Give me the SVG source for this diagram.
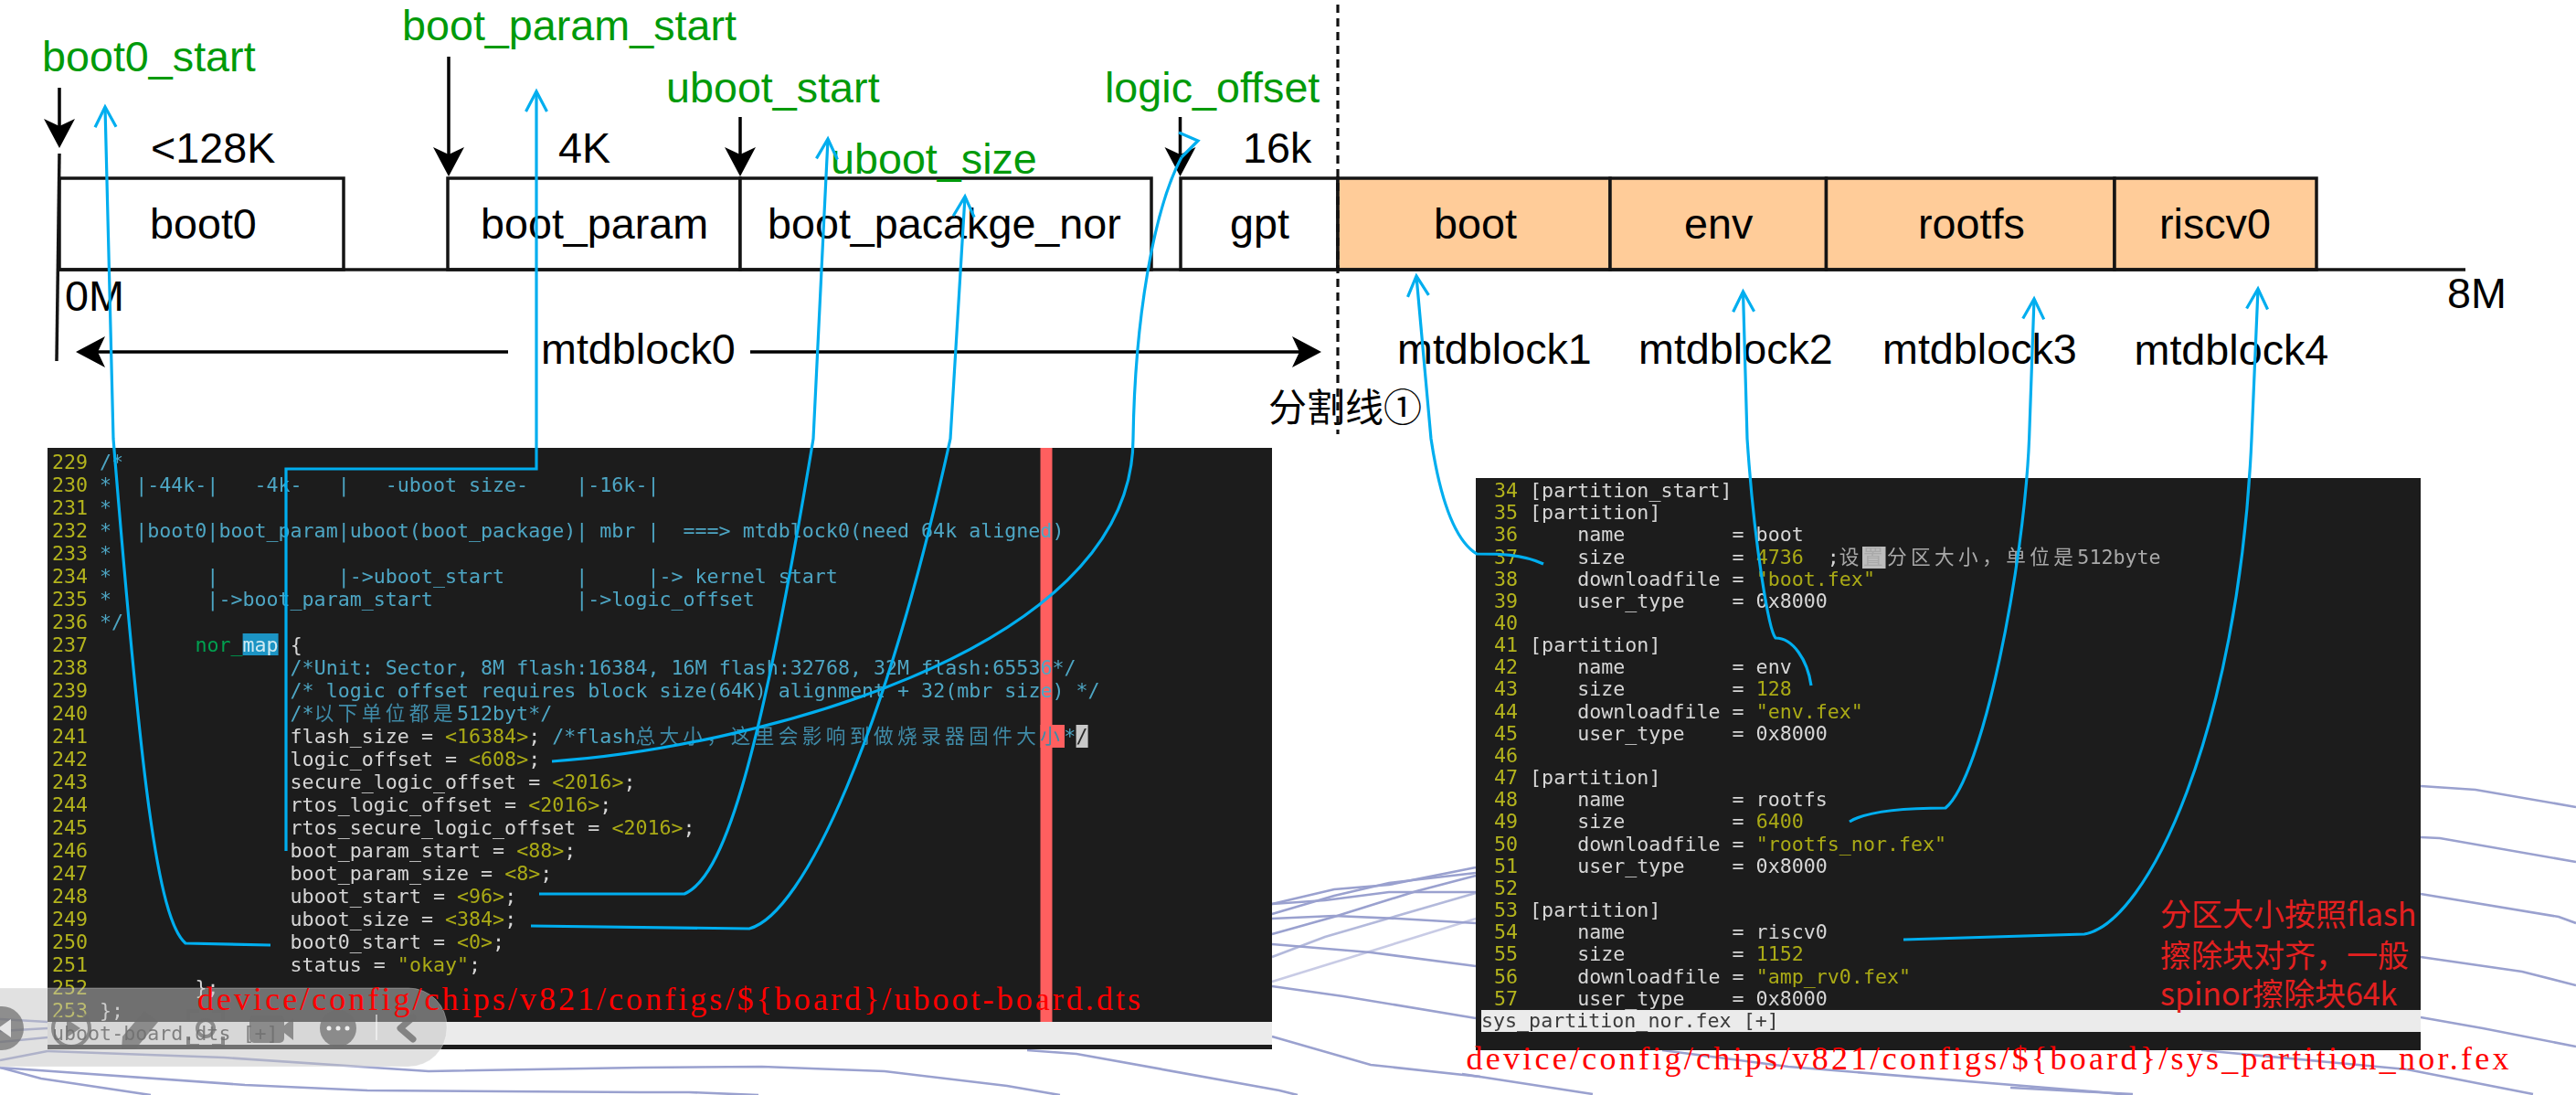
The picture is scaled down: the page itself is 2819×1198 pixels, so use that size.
<svg xmlns="http://www.w3.org/2000/svg" width="2819" height="1198" viewBox="0 0 2819 1198">
<style>
.lab{font:46.7px "Liberation Sans",Arial,sans-serif;fill:#000}
.grn{fill:#009a0a}
.box{fill:#fff;stroke:#141414;stroke-width:3.5}
.org{fill:#ffcc99}
.ax{stroke:#141414;stroke-width:3.5;fill:none}
.blk{stroke:#000;stroke-width:3.5;fill:none}
.con{stroke:#00aeef;stroke-width:3.2;fill:none}
.bg path{fill:none;stroke:#9aa1cf;stroke-width:2.6}
.code text{font:21.65px "DejaVu Sans Mono","Noto Sans CJK SC",monospace;white-space:pre;fill:#d6d6d6}
.code{filter:url(#soft)}
.code text.n{fill:#b4b41c}
.code text.c{fill:#4ea6c4}
.code tspan.y{fill:#aaaa14}
.code tspan.g{fill:#00a050}
.code tspan.h{fill:#cfeaf2}
.code tspan.j{letter-spacing:4.41px}
.code tspan.d{fill:#3f8ba8}
.code text.st{fill:#3a3a3a}
.path{font:36px "Liberation Serif","Noto Sans CJK SC",serif;fill:#f00}
.note{font:34px "Noto Sans CJK SC","Liberation Sans",sans-serif;fill:#e32020}
.ico{fill:#6e6e6e;fill-opacity:.72}
.icl{fill:none;stroke:#6e6e6e;stroke-opacity:.72;stroke-width:4}
</style>
<defs>
<filter id="soft" x="-2%" y="-2%" width="104%" height="104%"><feGaussianBlur stdDeviation="0.45"/></filter>
<marker id="solid" markerUnits="userSpaceOnUse" markerWidth="44" markerHeight="40" refX="30" refY="20" orient="auto"><path d="M8 3 L40 20 L8 37 L16 20 Z" fill="#000"/></marker>
<marker id="open" markerUnits="userSpaceOnUse" markerWidth="30" markerHeight="30" refX="26" refY="15" orient="auto"><path d="M4 3.5 L26 15 L4 26.5" fill="none" stroke="#00aeef" stroke-width="3.2"/></marker>
</defs>
<rect width="2819" height="1198" fill="#fff"/>

<g id="background-lines" class="bg">
<path d="M1392 989 L1460 973 L1520 968 L1615 949"/>
<path d="M1392 989 L1450 985 L1520 976 L1615 976"/>
<path d="M1392 1000 L1460 980 L1520 966 L1615 955"/>
<path d="M1392 1022 L1460 1003 L1550 975 L1615 958"/>
<path d="M1392 1047 L1450 1025 L1615 977" opacity=".75"/>
<path d="M1392 1074 L1615 1005" opacity=".55"/>
<path d="M1392 1005 L1460 1002 L1530 1005 L1615 1010"/>
<path d="M1392 1033 L1500 1042 L1615 1057"/>
<path d="M1392 1079 L1470 1090 L1615 1114"/>
<path d="M1392 1134 L1500 1165 L1620 1178"/>
<path d="M1124 1149 L1178 1153 L1400 1193 L1420 1198"/>
<path d="M0 1168 L45 1180 L165 1198"/>
<path d="M0 1168 L268 1187 L402 1193 L700 1195 L754 1195 L830 1198"/>
<path d="M52 1150 L245 1157 L469 1172 L700 1168 L834 1167 L968 1172 L1102 1188 L1160 1198"/>
<path d="M0 1115 L52 1118"/><path d="M0 1128 L52 1125"/><path d="M0 1140 L52 1135"/><path d="M0 1160 L52 1150"/>
<path d="M1600 1175 L1743 1197"/>
<path d="M1819 1149 L1957 1167 L2300 1195 L2330 1198"/>
<path d="M2200 1190 L2334 1197"/>
<path d="M2409 1149 L2634 1170 L2772 1197"/>
<path d="M2649 860 L2709 864 L2819 883"/>
<path d="M2649 916 L2670 917 L2819 943"/>
<path d="M2649 978 L2800 1003 L2819 1010"/>
<path d="M2649 1047 L2760 1063 L2819 1078"/>
<path d="M2649 1113 L2717 1125 L2819 1145"/>
</g>

<g id="terminal-uboot-board" class="code">
<rect x="52" y="490" width="1340" height="658" fill="#1c1c1c"/>
<rect x="1138.5" y="490" width="13" height="628" fill="#ff5f5f"/>
<rect x="1138.5" y="793" width="26.5" height="25" fill="#ff5f5f"/>
<rect x="1177.6" y="793" width="13" height="25" fill="#c8c8c8"/>
<rect x="265.6" y="693" width="39" height="24" fill="#1a94c4"/>
<rect x="52" y="1118" width="1340" height="25" fill="#ebebeb"/>
<text class="n" x="57" y="513">229</text><text class="c" x="109.1" y="513">/*</text>
<text class="n" x="57" y="538">230</text><text class="c" x="109.1" y="538">*  |-44k-|   -4k-   |   -uboot size-    |-16k-|</text>
<text class="n" x="57" y="563">231</text><text class="c" x="109.1" y="563">*</text>
<text class="n" x="57" y="588">232</text><text class="c" x="109.1" y="588">*  |boot0|boot_param|uboot(boot_package)| mbr |  ===&gt; mtdblock0(need 64k aligned)</text>
<text class="n" x="57" y="613">233</text><text class="c" x="109.1" y="613">*</text>
<text class="n" x="57" y="638">234</text><text class="c" x="109.1" y="638">*        |          |-&gt;uboot_start      |     |-&gt; kernel start</text>
<text class="n" x="57" y="663">235</text><text class="c" x="109.1" y="663">*        |-&gt;boot_param_start            |-&gt;logic_offset</text>
<text class="n" x="57" y="688">236</text><text class="c" x="109.1" y="688">*/</text>
<text class="n" x="57" y="713">237</text><text x="213.4" y="713"><tspan class="g">nor_</tspan><tspan class="h">map</tspan> {</text>
<text class="n" x="57" y="738">238</text><text class="c" x="317.6" y="738">/*Unit: Sector, 8M flash:16384, 16M flash:32768, 32M flash:65536*/</text>
<text class="n" x="57" y="763">239</text><text class="c" x="317.6" y="763">/* logic offset requires block size(64K) alignment + 32(mbr size) */</text>
<text class="n" x="57" y="788">240</text><text class="c" x="317.6" y="788">/*<tspan class="j d">以下单位都是</tspan>512byt*/</text>
<text class="n" x="57" y="813">241</text><text x="317.6" y="813">flash_size = <tspan class="y">&lt;16384&gt;</tspan>; <tspan fill="#4ea6c4">/*flash</tspan><tspan class="j d">总大小，这里会影响到做烧录器固件大小</tspan><tspan fill="#4ea6c4">*</tspan><tspan fill="#2a2a2a">/</tspan></text>
<text class="n" x="57" y="838">242</text><text x="317.6" y="838">logic_offset = <tspan class="y">&lt;608&gt;</tspan>;</text>
<text class="n" x="57" y="863">243</text><text x="317.6" y="863">secure_logic_offset = <tspan class="y">&lt;2016&gt;</tspan>;</text>
<text class="n" x="57" y="888">244</text><text x="317.6" y="888">rtos_logic_offset = <tspan class="y">&lt;2016&gt;</tspan>;</text>
<text class="n" x="57" y="913">245</text><text x="317.6" y="913">rtos_secure_logic_offset = <tspan class="y">&lt;2016&gt;</tspan>;</text>
<text class="n" x="57" y="938">246</text><text x="317.6" y="938">boot_param_start = <tspan class="y">&lt;88&gt;</tspan>;</text>
<text class="n" x="57" y="963">247</text><text x="317.6" y="963">boot_param_size = <tspan class="y">&lt;8&gt;</tspan>;</text>
<text class="n" x="57" y="988">248</text><text x="317.6" y="988">uboot_start = <tspan class="y">&lt;96&gt;</tspan>;</text>
<text class="n" x="57" y="1013">249</text><text x="317.6" y="1013">uboot_size = <tspan class="y">&lt;384&gt;</tspan>;</text>
<text class="n" x="57" y="1038">250</text><text x="317.6" y="1038">boot0_start = <tspan class="y">&lt;0&gt;</tspan>;</text>
<text class="n" x="57" y="1063">251</text><text x="317.6" y="1063">status = <tspan class="y">"okay"</tspan>;</text>
<text class="n" x="57" y="1088">252</text><text x="213.4" y="1088">};</text>
<text class="n" x="57" y="1113">253</text><text x="109.1" y="1113">};</text>
<text class="st" x="57" y="1138">uboot-board.dts [+]</text>
</g>

<g id="toolbar">
<rect x="-60" y="1081" width="549" height="86" rx="42" fill="#c4c4c4" fill-opacity=".5" stroke="#fff" stroke-opacity=".3"/>
<circle cx="2" cy="1125" r="24" class="ico"/><path d="M-2 1125 L12 1115 L12 1135 Z" fill="#e6e6e6"/>
<circle cx="78" cy="1125" r="20" class="icl"/><path d="M73 1115 L88 1125 L73 1135 Z" class="ico"/>
<path d="M133 1148 L134 1134 L158 1106 L173 1118 L148 1148 Z" class="ico"/>
<path d="M206 1116 L206 1106 L218 1106 M232 1106 L244 1106 L244 1116 M206 1134 L206 1144 L218 1144 M232 1144 L244 1144 L244 1134" class="icl"/><circle cx="225" cy="1125" r="9" class="icl"/>
<rect x="273" y="1111" width="38" height="30" rx="5" class="ico"/><path d="M311 1122 L321 1114 L321 1138 L311 1130 Z" class="ico"/>
<circle cx="370" cy="1125" r="20" class="ico"/><circle cx="360" cy="1125" r="2.5" fill="#eee"/><circle cx="370" cy="1125" r="2.5" fill="#eee"/><circle cx="380" cy="1125" r="2.5" fill="#eee"/>
<path d="M412 1110 L412 1138" stroke="#fff" stroke-opacity=".7" stroke-width="1.5"/>
<path d="M452 1113 L438 1125 L452 1137" fill="none" stroke="#6e6e6e" stroke-opacity=".8" stroke-width="7" stroke-linecap="round" stroke-linejoin="round"/>
</g>

<g id="terminal-sys-partition" class="code">
<rect x="1615" y="523" width="1034" height="626" fill="#1c1c1c"/>
<rect x="2038" y="598" width="25.5" height="24" fill="#bdbdbd"/>
<rect x="1621" y="1105" width="1028" height="24" fill="#ebebeb"/>
<text class="n" x="1635" y="544">34</text><text x="1674.1" y="544">[partition_start]</text>
<text class="n" x="1635" y="568">35</text><text x="1674.1" y="568">[partition]</text>
<text class="n" x="1635" y="592">36</text><text x="1726.2" y="592">name         = boot</text>
<text class="n" x="1635" y="617">37</text><text x="1726.2" y="617">size         = <tspan class="y">4736</tspan>  ;<tspan class="j" fill="#a9a9a9">设置分区大小，单位是</tspan><tspan fill="#a9a9a9">512byte</tspan></text>
<text class="n" x="1635" y="641">38</text><text x="1726.2" y="641">downloadfile = <tspan class="y">"boot.fex"</tspan></text>
<text class="n" x="1635" y="665">39</text><text x="1726.2" y="665">user_type    = 0x8000</text>
<text class="n" x="1635" y="689">40</text>
<text class="n" x="1635" y="713">41</text><text x="1674.1" y="713">[partition]</text>
<text class="n" x="1635" y="737">42</text><text x="1726.2" y="737">name         = env</text>
<text class="n" x="1635" y="761">43</text><text x="1726.2" y="761">size         = <tspan class="y">128</tspan></text>
<text class="n" x="1635" y="786">44</text><text x="1726.2" y="786">downloadfile = <tspan class="y">"env.fex"</tspan></text>
<text class="n" x="1635" y="810">45</text><text x="1726.2" y="810">user_type    = 0x8000</text>
<text class="n" x="1635" y="834">46</text>
<text class="n" x="1635" y="858">47</text><text x="1674.1" y="858">[partition]</text>
<text class="n" x="1635" y="882">48</text><text x="1726.2" y="882">name         = rootfs</text>
<text class="n" x="1635" y="906">49</text><text x="1726.2" y="906">size         = <tspan class="y">6400</tspan></text>
<text class="n" x="1635" y="931">50</text><text x="1726.2" y="931">downloadfile = <tspan class="y">"rootfs_nor.fex"</tspan></text>
<text class="n" x="1635" y="955">51</text><text x="1726.2" y="955">user_type    = 0x8000</text>
<text class="n" x="1635" y="979">52</text>
<text class="n" x="1635" y="1003">53</text><text x="1674.1" y="1003">[partition]</text>
<text class="n" x="1635" y="1027">54</text><text x="1726.2" y="1027">name         = riscv0</text>
<text class="n" x="1635" y="1051">55</text><text x="1726.2" y="1051">size         = <tspan class="y">1152</tspan></text>
<text class="n" x="1635" y="1076">56</text><text x="1726.2" y="1076">downloadfile = <tspan class="y">"amp_rv0.fex"</tspan></text>
<text class="n" x="1635" y="1100">57</text><text x="1726.2" y="1100">user_type    = 0x8000</text>
<text class="st" x="1621" y="1124">sys_partition_nor.fex [+]</text>
</g>

<g id="annotations">
<text class="path" x="216" y="1105" textLength="1032" lengthAdjust="spacing">device/config/chips/v821/configs/${board}/uboot-board.dts</text>
<text class="path" x="1604.5" y="1170" textLength="1141" lengthAdjust="spacing">device/config/chips/v821/configs/${board}/sys_partition_nor.fex</text>
<text class="note" x="2364" y="1013">分区大小按照flash</text>
<text class="note" x="2364" y="1058">擦除块对齐，一般</text>
<text class="note" x="2364" y="1100">spinor擦除块64k</text>
</g>

<g id="node-boot0"><rect class="box" x="65" y="195" width="311" height="100"/><text class="lab" x="164" y="261">boot0</text></g>
<g id="node-boot_param"><rect class="box" x="490" y="195" width="320" height="100"/><text class="lab" x="526" y="261">boot_param</text></g>
<g id="node-boot_pacakge_nor"><rect class="box" x="810" y="195" width="450" height="100"/><text class="lab" x="840" y="261">boot_pacakge_nor</text></g>
<g id="node-gpt"><rect class="box" x="1292" y="195" width="172" height="100"/><text class="lab" x="1346" y="261">gpt</text></g>
<g id="node-boot"><rect class="box org" x="1464" y="195" width="298" height="100"/><text class="lab" x="1569" y="261">boot</text></g>
<g id="node-env"><rect class="box org" x="1762" y="195" width="236.500" height="100"/><text class="lab" x="1843" y="261">env</text></g>
<g id="node-rootfs"><rect class="box org" x="1998.500" y="195" width="315.500" height="100"/><text class="lab" x="2099" y="261">rootfs</text></g>
<g id="node-riscv0"><rect class="box org" x="2314" y="195" width="221" height="100"/><text class="lab" x="2363" y="261">riscv0</text></g>

<g id="labels">
<text class="lab grn" x="46" y="78">boot0_start</text>
<text class="lab grn" x="440" y="43.500">boot_param_start</text>
<text class="lab grn" x="729" y="112">uboot_start</text>
<text class="lab grn" x="909" y="190">uboot_size</text>
<text class="lab grn" x="1209" y="112">logic_offset</text>
<text class="lab" x="165" y="178">&lt;128K</text>
<text class="lab" x="611" y="178">4K</text>
<text class="lab" x="1360" y="178">16k</text>
<text class="lab" x="71" y="340">0M</text>
<text class="lab" x="2678" y="337">8M</text>
<text class="lab" x="592" y="398">mtdblock0</text>
<text class="lab" x="1529" y="398">mtdblock1</text>
<text class="lab" x="1793" y="398">mtdblock2</text>
<text class="lab" x="2060" y="398">mtdblock3</text>
<text class="lab" x="2335.500" y="399">mtdblock4</text>
<text x="1388" y="461" style="font:42px 'Noto Sans CJK SC','Liberation Sans',sans-serif" fill="#000">分割线①</text>
</g>

<g id="connectors">
<path class="ax" d="M62 395 L65 168"/>
<path class="ax" d="M65 295 L2698 295"/>
<path d="M1464 5 L1464 475" fill="none" stroke="#111" stroke-width="3.200" stroke-dasharray="9 6"/>
<path class="blk" d="M65 96 L65 152" marker-end="url(#solid)"/>
<path class="blk" d="M491 62 L491 183" marker-end="url(#solid)"/>
<path class="blk" d="M810 128 L810 183" marker-end="url(#solid)"/>
<path class="blk" d="M1291.500 128 L1291.500 183" marker-end="url(#solid)"/>
<path class="blk" d="M556 385 L93 385" marker-end="url(#solid)"/>
<path class="blk" d="M821 385 L1436 385" marker-end="url(#solid)"/>
<path class="con" d="M296 1034 L203 1032 C172 1005 154 850 124 480 L115 117" marker-end="url(#open)"/>
<path class="con" d="M313 931 L313 513 L587 513 L587 100" marker-end="url(#open)"/>
<path class="con" d="M590 978 L749 978 C790 960 829 850 890 480 L906 152" marker-end="url(#open)"/>
<path class="con" d="M581 1013 L820 1016 C880 1000 970 800 1040 480 L1056 215" marker-end="url(#open)"/>
<path class="con" d="M604 833 C800 820 1240 720 1240 480 C1242 350 1262 230 1293 172"/>
<path class="con" d="M1290 145 L1311 154 L1293 172"/>
<path class="con" d="M1689 617 C1665 606 1640 606 1616 606 C1590 590 1575 540 1566 480 L1550 302" marker-end="url(#open)"/>
<path class="con" d="M1982 750 C1978 722 1962 698 1943 698 C1936 690 1920 600 1912 480 L1907.500 319" marker-end="url(#open)"/>
<path class="con" d="M2024 899 C2045 886 2090 884 2129 884 C2170 850 2215 620 2220.600 480 L2226 327" marker-end="url(#open)"/>
<path class="con" d="M2083 1028 L2281 1022 C2350 1010 2450 800 2464 480 L2471 316" marker-end="url(#open)"/>
</g>
</svg>
